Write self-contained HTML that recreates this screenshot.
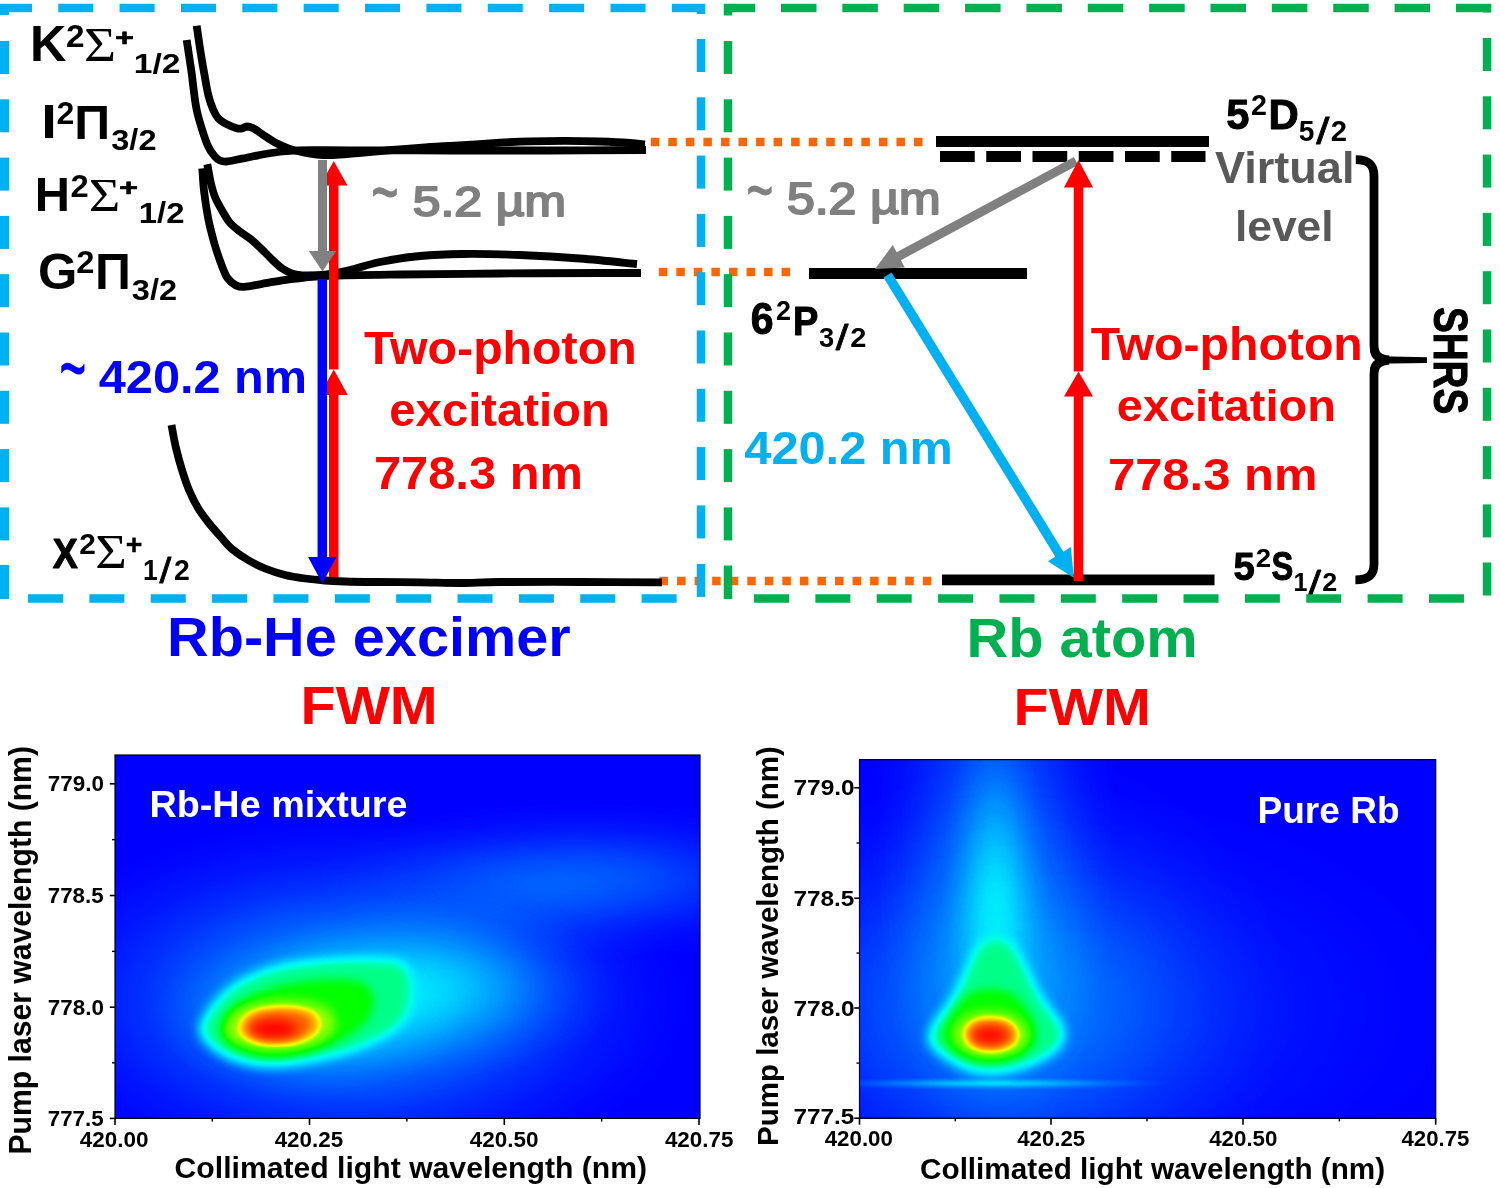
<!DOCTYPE html>
<html lang="en">
<head>
<meta charset="utf-8">
<title>Rb-He excimer and Rb atom four-wave mixing</title>
<style>
html,body{margin:0;padding:0;background:#ffffff;}
body{width:1500px;height:1188px;overflow:hidden;}
svg{display:block;}
text{white-space:pre;}
</style>
</head>
<body>
<svg width="1500" height="1188" viewBox="0 0 1500 1188">
<rect x="0" y="0" width="1500" height="1188" fill="#ffffff"/>
<defs>
<filter id="jet" x="0" y="0" width="100%" height="100%" color-interpolation-filters="sRGB">
<feComponentTransfer>
<feFuncR type="table" tableValues="0 0 0 0 0 0 0 0 0 0 0 .3 .6 .9 1 1 1 1 1 1 1"/>
<feFuncG type="table" tableValues="0 .15 .3 .45 .6 .75 .9 1 1 1 1 1 1 1 .9 .75 .6 .45 .3 .15 0"/>
<feFuncB type="table" tableValues="1 1 1 1 1 1 1 .9 .6 .3 0 0 0 0 0 0 0 0 0 0 0"/>
</feComponentTransfer>
</filter>
<filter id="b3" x="-40%" y="-40%" width="180%" height="180%" color-interpolation-filters="sRGB"><feGaussianBlur stdDeviation="2.6"/></filter>
<filter id="b4" x="-40%" y="-40%" width="180%" height="180%" color-interpolation-filters="sRGB"><feGaussianBlur stdDeviation="4"/></filter>
<filter id="b6" x="-40%" y="-40%" width="180%" height="180%" color-interpolation-filters="sRGB"><feGaussianBlur stdDeviation="6"/></filter>
<filter id="b10" x="-40%" y="-40%" width="180%" height="180%" color-interpolation-filters="sRGB"><feGaussianBlur stdDeviation="9"/></filter>
<filter id="b5" x="-30%" y="-30%" width="160%" height="160%" color-interpolation-filters="sRGB"><feGaussianBlur stdDeviation="4"/></filter>
<filter id="b8" x="-30%" y="-30%" width="160%" height="160%" color-interpolation-filters="sRGB"><feGaussianBlur stdDeviation="7"/></filter>
<radialGradient id="gA" cx="0.5" cy="0.5" r="0.5">
<stop offset="0" stop-color="#fff" stop-opacity="1"/>
<stop offset="0.15" stop-color="#fff" stop-opacity="0.93"/>
<stop offset="0.3" stop-color="#fff" stop-opacity="0.75"/>
<stop offset="0.45" stop-color="#fff" stop-opacity="0.52"/>
<stop offset="0.6" stop-color="#fff" stop-opacity="0.3"/>
<stop offset="0.75" stop-color="#fff" stop-opacity="0.14"/>
<stop offset="0.9" stop-color="#fff" stop-opacity="0.04"/>
<stop offset="1" stop-color="#fff" stop-opacity="0"/>
</radialGradient>
</defs>
<rect x="650.75" y="137.75" width="8.50" height="8.5" fill="#ff6600"/>
<rect x="668.30" y="137.75" width="8.50" height="8.5" fill="#ff6600"/>
<rect x="685.85" y="137.75" width="8.50" height="8.5" fill="#ff6600"/>
<rect x="703.40" y="137.75" width="8.50" height="8.5" fill="#ff6600"/>
<rect x="720.95" y="137.75" width="8.50" height="8.5" fill="#ff6600"/>
<rect x="738.50" y="137.75" width="8.50" height="8.5" fill="#ff6600"/>
<rect x="756.05" y="137.75" width="8.50" height="8.5" fill="#ff6600"/>
<rect x="773.60" y="137.75" width="8.50" height="8.5" fill="#ff6600"/>
<rect x="791.15" y="137.75" width="8.50" height="8.5" fill="#ff6600"/>
<rect x="808.70" y="137.75" width="8.50" height="8.5" fill="#ff6600"/>
<rect x="826.25" y="137.75" width="8.50" height="8.5" fill="#ff6600"/>
<rect x="843.80" y="137.75" width="8.50" height="8.5" fill="#ff6600"/>
<rect x="861.35" y="137.75" width="8.50" height="8.5" fill="#ff6600"/>
<rect x="878.90" y="137.75" width="8.50" height="8.5" fill="#ff6600"/>
<rect x="896.45" y="137.75" width="8.50" height="8.5" fill="#ff6600"/>
<rect x="914.00" y="137.75" width="8.50" height="8.5" fill="#ff6600"/>
<rect x="658.75" y="267.75" width="8.50" height="8.5" fill="#ff6600"/>
<rect x="676.30" y="267.75" width="8.50" height="8.5" fill="#ff6600"/>
<rect x="693.85" y="267.75" width="8.50" height="8.5" fill="#ff6600"/>
<rect x="711.40" y="267.75" width="8.50" height="8.5" fill="#ff6600"/>
<rect x="728.95" y="267.75" width="8.50" height="8.5" fill="#ff6600"/>
<rect x="746.50" y="267.75" width="8.50" height="8.5" fill="#ff6600"/>
<rect x="764.05" y="267.75" width="8.50" height="8.5" fill="#ff6600"/>
<rect x="781.60" y="267.75" width="8.50" height="8.5" fill="#ff6600"/>
<rect x="659.50" y="576.75" width="8.50" height="8.5" fill="#ff6600"/>
<rect x="677.05" y="576.75" width="8.50" height="8.5" fill="#ff6600"/>
<rect x="694.60" y="576.75" width="8.50" height="8.5" fill="#ff6600"/>
<rect x="712.15" y="576.75" width="8.50" height="8.5" fill="#ff6600"/>
<rect x="729.70" y="576.75" width="8.50" height="8.5" fill="#ff6600"/>
<rect x="747.25" y="576.75" width="8.50" height="8.5" fill="#ff6600"/>
<rect x="764.80" y="576.75" width="8.50" height="8.5" fill="#ff6600"/>
<rect x="782.35" y="576.75" width="8.50" height="8.5" fill="#ff6600"/>
<rect x="799.90" y="576.75" width="8.50" height="8.5" fill="#ff6600"/>
<rect x="817.45" y="576.75" width="8.50" height="8.5" fill="#ff6600"/>
<rect x="835.00" y="576.75" width="8.50" height="8.5" fill="#ff6600"/>
<rect x="852.55" y="576.75" width="8.50" height="8.5" fill="#ff6600"/>
<rect x="870.10" y="576.75" width="8.50" height="8.5" fill="#ff6600"/>
<rect x="887.65" y="576.75" width="8.50" height="8.5" fill="#ff6600"/>
<rect x="905.20" y="576.75" width="8.50" height="8.5" fill="#ff6600"/>
<rect x="922.75" y="576.75" width="8.50" height="8.5" fill="#ff6600"/>
<rect x="0.00" y="3.75" width="32.00" height="8.5" fill="#00b0f0"/>
<rect x="58.25" y="3.75" width="35.00" height="8.5" fill="#00b0f0"/>
<rect x="119.61" y="3.75" width="35.00" height="8.5" fill="#00b0f0"/>
<rect x="180.97" y="3.75" width="35.00" height="8.5" fill="#00b0f0"/>
<rect x="242.33" y="3.75" width="35.00" height="8.5" fill="#00b0f0"/>
<rect x="303.69" y="3.75" width="35.00" height="8.5" fill="#00b0f0"/>
<rect x="365.05" y="3.75" width="35.00" height="8.5" fill="#00b0f0"/>
<rect x="426.41" y="3.75" width="35.00" height="8.5" fill="#00b0f0"/>
<rect x="487.77" y="3.75" width="35.00" height="8.5" fill="#00b0f0"/>
<rect x="549.13" y="3.75" width="35.00" height="8.5" fill="#00b0f0"/>
<rect x="610.49" y="3.75" width="35.00" height="8.5" fill="#00b0f0"/>
<rect x="671.85" y="3.75" width="33.15" height="8.5" fill="#00b0f0"/>
<rect x="28.00" y="594.25" width="35.00" height="8.5" fill="#00b0f0"/>
<rect x="89.36" y="594.25" width="35.00" height="8.5" fill="#00b0f0"/>
<rect x="150.72" y="594.25" width="35.00" height="8.5" fill="#00b0f0"/>
<rect x="212.08" y="594.25" width="35.00" height="8.5" fill="#00b0f0"/>
<rect x="273.44" y="594.25" width="35.00" height="8.5" fill="#00b0f0"/>
<rect x="334.80" y="594.25" width="35.00" height="8.5" fill="#00b0f0"/>
<rect x="396.16" y="594.25" width="35.00" height="8.5" fill="#00b0f0"/>
<rect x="457.52" y="594.25" width="35.00" height="8.5" fill="#00b0f0"/>
<rect x="518.88" y="594.25" width="35.00" height="8.5" fill="#00b0f0"/>
<rect x="580.24" y="594.25" width="35.00" height="8.5" fill="#00b0f0"/>
<rect x="641.60" y="594.25" width="35.00" height="8.5" fill="#00b0f0"/>
<rect x="0.00" y="4.00" width="9" height="11.00" fill="#00b0f0"/>
<rect x="0.00" y="41.00" width="9" height="33.00" fill="#00b0f0"/>
<rect x="0.00" y="99.30" width="9" height="33.00" fill="#00b0f0"/>
<rect x="0.00" y="157.60" width="9" height="33.00" fill="#00b0f0"/>
<rect x="0.00" y="215.90" width="9" height="33.00" fill="#00b0f0"/>
<rect x="0.00" y="274.20" width="9" height="33.00" fill="#00b0f0"/>
<rect x="0.00" y="332.50" width="9" height="33.00" fill="#00b0f0"/>
<rect x="0.00" y="390.80" width="9" height="33.00" fill="#00b0f0"/>
<rect x="0.00" y="449.10" width="9" height="33.00" fill="#00b0f0"/>
<rect x="0.00" y="507.40" width="9" height="33.00" fill="#00b0f0"/>
<rect x="0.00" y="565.00" width="9" height="34.00" fill="#00b0f0"/>
<rect x="696.75" y="4.00" width="8.5" height="10.00" fill="#00b0f0"/>
<rect x="696.75" y="39.00" width="8.5" height="33.00" fill="#00b0f0"/>
<rect x="696.75" y="97.30" width="8.5" height="33.00" fill="#00b0f0"/>
<rect x="696.75" y="155.60" width="8.5" height="33.00" fill="#00b0f0"/>
<rect x="696.75" y="213.90" width="8.5" height="33.00" fill="#00b0f0"/>
<rect x="696.75" y="272.20" width="8.5" height="33.00" fill="#00b0f0"/>
<rect x="696.75" y="330.50" width="8.5" height="33.00" fill="#00b0f0"/>
<rect x="696.75" y="388.80" width="8.5" height="33.00" fill="#00b0f0"/>
<rect x="696.75" y="447.10" width="8.5" height="33.00" fill="#00b0f0"/>
<rect x="696.75" y="505.40" width="8.5" height="33.00" fill="#00b0f0"/>
<rect x="696.75" y="564.00" width="8.5" height="33.00" fill="#00b0f0"/>
<rect x="724.00" y="3.75" width="31.00" height="8.5" fill="#00b050"/>
<rect x="781.00" y="3.75" width="35.50" height="8.5" fill="#00b050"/>
<rect x="842.36" y="3.75" width="35.50" height="8.5" fill="#00b050"/>
<rect x="903.72" y="3.75" width="35.50" height="8.5" fill="#00b050"/>
<rect x="965.08" y="3.75" width="35.50" height="8.5" fill="#00b050"/>
<rect x="1026.44" y="3.75" width="35.50" height="8.5" fill="#00b050"/>
<rect x="1087.80" y="3.75" width="35.50" height="8.5" fill="#00b050"/>
<rect x="1149.16" y="3.75" width="35.50" height="8.5" fill="#00b050"/>
<rect x="1210.52" y="3.75" width="35.50" height="8.5" fill="#00b050"/>
<rect x="1271.88" y="3.75" width="35.50" height="8.5" fill="#00b050"/>
<rect x="1333.24" y="3.75" width="35.50" height="8.5" fill="#00b050"/>
<rect x="1394.60" y="3.75" width="35.50" height="8.5" fill="#00b050"/>
<rect x="1455.96" y="3.75" width="35.04" height="8.5" fill="#00b050"/>
<rect x="754.00" y="594.25" width="35.00" height="8.5" fill="#00b050"/>
<rect x="815.36" y="594.25" width="35.00" height="8.5" fill="#00b050"/>
<rect x="876.72" y="594.25" width="35.00" height="8.5" fill="#00b050"/>
<rect x="938.08" y="594.25" width="35.00" height="8.5" fill="#00b050"/>
<rect x="999.44" y="594.25" width="35.00" height="8.5" fill="#00b050"/>
<rect x="1060.80" y="594.25" width="35.00" height="8.5" fill="#00b050"/>
<rect x="1122.16" y="594.25" width="35.00" height="8.5" fill="#00b050"/>
<rect x="1183.52" y="594.25" width="35.00" height="8.5" fill="#00b050"/>
<rect x="1244.88" y="594.25" width="35.00" height="8.5" fill="#00b050"/>
<rect x="1306.24" y="594.25" width="35.00" height="8.5" fill="#00b050"/>
<rect x="1367.60" y="594.25" width="35.00" height="8.5" fill="#00b050"/>
<rect x="1428.96" y="594.25" width="35.00" height="8.5" fill="#00b050"/>
<rect x="723.75" y="4.00" width="8.5" height="11.50" fill="#00b050"/>
<rect x="723.75" y="41.00" width="8.5" height="33.00" fill="#00b050"/>
<rect x="723.75" y="99.30" width="8.5" height="33.00" fill="#00b050"/>
<rect x="723.75" y="157.60" width="8.5" height="33.00" fill="#00b050"/>
<rect x="723.75" y="215.90" width="8.5" height="33.00" fill="#00b050"/>
<rect x="723.75" y="274.20" width="8.5" height="33.00" fill="#00b050"/>
<rect x="723.75" y="332.50" width="8.5" height="33.00" fill="#00b050"/>
<rect x="723.75" y="390.80" width="8.5" height="33.00" fill="#00b050"/>
<rect x="723.75" y="449.10" width="8.5" height="33.00" fill="#00b050"/>
<rect x="723.75" y="507.40" width="8.5" height="33.00" fill="#00b050"/>
<rect x="723.75" y="565.50" width="8.5" height="33.50" fill="#00b050"/>
<rect x="1482.75" y="4.00" width="8.5" height="8.50" fill="#00b050"/>
<rect x="1482.75" y="38.00" width="8.5" height="33.00" fill="#00b050"/>
<rect x="1482.75" y="96.30" width="8.5" height="33.00" fill="#00b050"/>
<rect x="1482.75" y="154.60" width="8.5" height="33.00" fill="#00b050"/>
<rect x="1482.75" y="212.90" width="8.5" height="33.00" fill="#00b050"/>
<rect x="1482.75" y="271.20" width="8.5" height="33.00" fill="#00b050"/>
<rect x="1482.75" y="329.50" width="8.5" height="33.00" fill="#00b050"/>
<rect x="1482.75" y="387.80" width="8.5" height="33.00" fill="#00b050"/>
<rect x="1482.75" y="446.10" width="8.5" height="33.00" fill="#00b050"/>
<rect x="1482.75" y="504.40" width="8.5" height="33.00" fill="#00b050"/>
<rect x="1482.75" y="562.50" width="8.5" height="33.00" fill="#00b050"/>
<path d="M196.7,25.8 C197.2,29.6 198.8,40.4 200.0,48.3 C201.2,56.2 202.8,65.5 204.2,73.3 C205.6,81.1 206.8,88.9 208.3,95.0 C209.8,101.1 211.6,106.1 213.3,110.0 C215.0,113.9 216.1,115.9 218.3,118.3 C220.5,120.7 223.6,122.5 226.7,124.2 C229.8,125.9 234.2,127.6 236.7,128.3 C239.2,129.0 240.0,128.8 241.7,128.5 C243.4,128.2 244.8,126.5 246.7,126.5 C248.6,126.5 250.5,126.9 253.3,128.3 C256.1,129.7 259.7,132.6 263.3,135.0 C266.9,137.4 270.8,140.3 275.0,142.5 C279.2,144.7 283.9,146.7 288.3,148.3 C292.8,149.9 297.0,151.0 301.7,152.0 C306.4,153.0 311.4,154.0 316.7,154.5 C322.0,155.0 326.4,155.2 333.3,155.0 C340.2,154.8 348.6,153.8 358.3,153.0 C368.0,152.2 380.6,150.9 391.7,150.0 C402.8,149.1 415.3,148.0 425.0,147.3 C434.7,146.6 437.5,146.8 450.0,146.0 C462.5,145.2 486.7,143.5 500.0,142.7 C513.3,141.9 519.2,141.6 530.0,141.3 C540.8,141.0 553.3,140.8 565.0,140.8 C576.7,140.8 589.2,141.1 600.0,141.5 C610.8,141.9 622.5,142.5 630.0,143.0 C637.5,143.5 642.5,144.1 645.0,144.3" fill="none" stroke="#000" stroke-width="7.8" stroke-linejoin="round"/>
<path d="M186.7,40.0 C187.1,42.8 188.4,51.2 189.2,56.7 C190.0,62.2 190.9,67.8 191.7,73.3 C192.4,78.8 192.9,83.9 193.7,90.0 C194.5,96.1 195.4,103.6 196.7,110.0 C198.0,116.4 199.8,122.2 201.7,128.3 C203.6,134.4 206.2,142.1 208.3,146.7 C210.4,151.3 212.2,153.5 214.2,155.8 C216.1,158.1 217.9,159.6 220.0,160.5 C222.1,161.4 223.1,161.8 226.7,161.5 C230.3,161.2 236.4,159.7 241.7,158.7 C247.0,157.7 252.2,156.4 258.3,155.3 C264.4,154.2 271.6,152.8 278.3,152.0 C285.0,151.2 286.4,150.6 298.3,150.3 C310.2,150.0 324.7,150.3 350.0,150.3 C375.3,150.3 416.7,150.5 450.0,150.5 C483.3,150.5 517.3,150.6 550.0,150.5 C582.7,150.4 630.0,150.1 646.0,150.0" fill="none" stroke="#000" stroke-width="7.8" stroke-linejoin="round"/>
<path d="M207.3,164.2 C207.8,167.0 209.2,175.7 210.4,181.0 C211.6,186.3 212.8,191.2 214.6,195.8 C216.3,200.4 218.4,204.0 220.9,208.4 C223.4,212.8 226.2,218.2 229.4,222.1 C232.6,225.9 236.4,228.7 239.9,231.5 C243.4,234.3 246.9,236.1 250.4,238.9 C253.9,241.7 257.4,245.1 260.9,248.4 C264.4,251.7 267.9,255.6 271.4,258.9 C274.9,262.2 278.5,265.9 282.0,268.4 C285.5,270.8 289.0,272.5 292.5,273.6 C296.0,274.8 297.6,275.2 303.0,275.3 C308.4,275.4 317.2,275.4 325.0,274.5 C332.8,273.6 340.8,272.1 350.0,270.0 C359.2,267.9 368.3,264.3 380.0,262.0 C391.7,259.7 406.3,257.3 420.0,256.0 C433.7,254.7 445.3,254.2 462.0,254.0 C478.7,253.8 500.3,254.2 520.0,255.0 C539.7,255.8 560.5,257.0 580.0,258.5 C599.5,260.0 627.5,263.1 637.0,264.0" fill="none" stroke="#000" stroke-width="7.8" stroke-linejoin="round"/>
<path d="M202.3,168.4 C202.6,172.3 203.1,183.2 204.1,191.6 C205.1,200.0 206.6,210.1 208.3,218.9 C210.1,227.7 212.5,236.8 214.6,244.2 C216.7,251.6 218.8,257.5 220.9,263.1 C223.0,268.7 224.8,274.1 227.3,277.8 C229.8,281.5 232.9,283.7 235.7,285.2 C238.5,286.7 239.9,287.1 244.1,286.9 C248.3,286.7 254.6,285.2 260.9,284.1 C267.2,283.0 275.0,281.4 282.0,280.3 C289.0,279.2 295.0,278.6 303.0,277.8 C311.0,277.1 313.8,276.4 330.0,275.8 C346.2,275.2 371.7,274.9 400.0,274.5 C428.3,274.1 466.7,273.8 500.0,273.5 C533.3,273.2 576.5,273.1 600.0,273.0 C623.5,272.9 634.2,273.0 641.0,273.0" fill="none" stroke="#000" stroke-width="7.8" stroke-linejoin="round"/>
<path d="M171.5,425.0 C172.2,428.8 174.2,440.5 176.0,448.0 C177.8,455.5 179.8,463.0 182.0,470.0 C184.2,477.0 186.3,483.7 189.0,490.0 C191.7,496.3 194.8,502.7 198.0,508.0 C201.2,513.3 204.3,517.3 208.0,522.0 C211.7,526.7 216.0,531.5 220.0,536.0 C224.0,540.5 227.3,545.0 232.0,549.0 C236.7,553.0 242.5,556.8 248.0,560.0 C253.5,563.2 258.8,566.0 265.0,568.5 C271.2,571.0 278.3,573.3 285.0,575.0 C291.7,576.7 298.3,577.6 305.0,578.5 C311.7,579.4 318.3,580.0 325.0,580.5 C331.7,581.0 336.7,581.2 345.0,581.5 C353.3,581.8 362.5,581.9 375.0,582.0 C387.5,582.1 405.8,582.1 420.0,582.3 C434.2,582.5 446.7,583.0 460.0,583.0 C473.3,583.0 480.0,582.2 500.0,582.0 C520.0,581.8 553.0,582.0 580.0,582.0 C607.0,582.0 648.3,582.2 662.0,582.3" fill="none" stroke="#000" stroke-width="7.8" stroke-linejoin="round"/>
<polygon fill="#ff0000" points="338.50,577.00 338.50,395.00 347.75,395.00 333.75,369.50 319.75,395.00 329.00,395.00 329.00,577.00"/>
<polygon fill="#ff0000" points="338.50,369.50 338.50,185.50 347.50,185.50 333.75,161.00 320.00,185.50 329.00,185.50 329.00,369.50"/>
<polygon fill="#808080" points="318.00,160.00 318.00,251.00 308.75,251.00 322.50,271.50 336.25,251.00 327.00,251.00 327.00,160.00"/>
<polygon fill="#0000ff" points="317.55,279.00 317.55,557.00 308.05,557.00 322.30,583.50 336.55,557.00 327.05,557.00 327.05,279.00"/>
<rect x="936" y="136" width="273" height="11" fill="#000"/>
<rect x="940.00" y="151" width="34.75" height="11" fill="#000"/>
<rect x="986.25" y="151" width="34.75" height="11" fill="#000"/>
<rect x="1032.50" y="151" width="34.75" height="11" fill="#000"/>
<rect x="1078.75" y="151" width="34.75" height="11" fill="#000"/>
<rect x="1125.00" y="151" width="34.75" height="11" fill="#000"/>
<rect x="1171.25" y="151" width="34.25" height="11" fill="#000"/>
<rect x="809" y="268" width="218" height="11" fill="#000"/>
<rect x="942" y="574.5" width="272.5" height="10.8" fill="#000"/>
<polygon fill="#00b0f0" points="883.45,277.49 1055.28,556.64 1047.83,561.23 1074.00,578.00 1070.82,547.08 1063.37,551.67 891.55,272.51"/>
<polygon fill="#808080" points="1073.87,157.04 896.65,252.26 892.75,244.99 875.00,269.00 904.82,267.45 900.91,260.18 1078.13,164.96"/>
<polygon fill="#ff0000" points="1083.25,581.00 1083.25,396.50 1093.00,396.50 1078.50,371.50 1064.00,396.50 1073.75,396.50 1073.75,581.00"/>
<polygon fill="#ff0000" points="1083.25,371.50 1083.25,187.50 1093.00,187.50 1078.50,160.00 1064.00,187.50 1073.75,187.50 1073.75,371.50"/>
<path d="M1355.8,159.6 C1368,159.6 1374,164 1374,176 L1374,345 C1374,354 1378,359 1389,360 M1389,360 C1378,361 1374,366 1374,375 L1374,564 C1374,575.5 1368,579.8 1355.4,579.8" fill="none" stroke="#000" stroke-width="8.8"/>
<path d="M1374,349 C1376,357 1384,356.6 1392,356.6 L1427,357.3 L1427,363 L1392,363.6 C1384,363.6 1376,363 1374,371 L1370,371 C1370,366 1372,362 1375.5,360 C1372,358 1370,354 1370,349 Z" fill="#000"/>
<text transform="translate(29.90 61.30) scale(1.0249 1)" font-family="Liberation Sans, sans-serif" font-weight="bold" font-size="49.16" fill="#000">K</text>
<text transform="translate(66.03 47.00) scale(1.0579 1)" font-family="Liberation Sans, sans-serif" font-weight="bold" font-size="31.54" fill="#000">2</text>
<text transform="translate(84.00 61.30) scale(1.1406 1)" font-family="Liberation Serif, sans-serif" font-weight="normal" font-size="48.24" fill="#000">Σ</text>
<text transform="translate(115.20 45.64) scale(1.3744 1)" font-family="Liberation Sans, sans-serif" font-weight="bold" font-size="23.14" fill="#000" stroke="#000" stroke-width="0.7" stroke-linejoin="round">+</text>
<text transform="translate(133.70 72.83) scale(1.1879 1)" font-family="Liberation Sans, sans-serif" font-weight="bold" font-size="28.32" fill="#000">1/2</text>
<text transform="translate(41.21 138.30) scale(1.1591 1)" font-family="Liberation Sans, sans-serif" font-weight="bold" font-size="48.44" fill="#000">I</text>
<text transform="translate(56.38 123.70) scale(1.0185 1)" font-family="Liberation Sans, sans-serif" font-weight="bold" font-size="31.54" fill="#000">2</text>
<text transform="translate(74.15 138.50) scale(1.0200 1)" font-family="Liberation Sans, sans-serif" font-weight="bold" font-size="48.73" fill="#000">Π</text>
<text transform="translate(111.27 149.90) scale(1.0780 1)" font-family="Liberation Sans, sans-serif" font-weight="bold" font-size="30.20" fill="#000">3/2</text>
<text transform="translate(34.70 210.80) scale(1.0086 1)" font-family="Liberation Sans, sans-serif" font-weight="bold" font-size="48.44" fill="#000">H</text>
<text transform="translate(70.55 196.70) scale(1.0526 1)" font-family="Liberation Sans, sans-serif" font-weight="bold" font-size="31.11" fill="#000">2</text>
<text transform="translate(88.63 210.80) scale(1.1418 1)" font-family="Liberation Serif, sans-serif" font-weight="normal" font-size="47.48" fill="#000">Σ</text>
<text transform="translate(119.29 195.64) scale(1.3831 1)" font-family="Liberation Sans, sans-serif" font-weight="bold" font-size="23.14" fill="#000" stroke="#000" stroke-width="0.7" stroke-linejoin="round">+</text>
<text transform="translate(138.74 222.82) scale(1.1363 1)" font-family="Liberation Sans, sans-serif" font-weight="bold" font-size="28.99" fill="#000">1/2</text>
<text transform="translate(37.97 288.69) scale(0.9985 1)" font-family="Liberation Sans, sans-serif" font-weight="bold" font-size="50.74" fill="#000">G</text>
<text transform="translate(76.35 273.30) scale(1.0574 1)" font-family="Liberation Sans, sans-serif" font-weight="bold" font-size="30.97" fill="#000">2</text>
<text transform="translate(94.95 288.70) scale(1.0140 1)" font-family="Liberation Sans, sans-serif" font-weight="bold" font-size="49.02" fill="#000">Π</text>
<text transform="translate(131.77 299.99) scale(1.0732 1)" font-family="Liberation Sans, sans-serif" font-weight="bold" font-size="30.34" fill="#000">3/2</text>
<text transform="translate(52.72 567.70) scale(0.8717 1)" font-family="Liberation Sans, sans-serif" font-weight="bold" font-size="43.05" fill="#000" stroke="#000" stroke-width="1.2" stroke-linejoin="round">X</text>
<text transform="translate(79.26 553.70) scale(1.0408 1)" font-family="Liberation Sans, sans-serif" font-weight="bold" font-size="28.67" fill="#000">2</text>
<text transform="translate(95.33 568.00) scale(1.1028 1)" font-family="Liberation Serif, sans-serif" font-weight="normal" font-size="49.16" fill="#000">Σ</text>
<text transform="translate(125.69 554.40) scale(1.0496 1)" font-family="Liberation Sans, sans-serif" font-weight="bold" font-size="27.06" fill="#000" stroke="#000" stroke-width="0.4" stroke-linejoin="round">+</text>
<text transform="translate(143.05 579.70) scale(0.9231 1)" font-family="Liberation Sans, sans-serif" font-weight="bold" font-size="28.65" fill="#000">1</text>
<text transform="translate(159.60 583.44) scale(1.1738 1)" font-family="Liberation Sans, sans-serif" font-weight="normal" font-size="35.92" fill="#000" stroke="#000" stroke-width="0.8" stroke-linejoin="round">/</text>
<text transform="translate(174.01 579.70) scale(0.9902 1)" font-family="Liberation Sans, sans-serif" font-weight="bold" font-size="28.67" fill="#000">2</text>
<text transform="translate(371.19 218.00) scale(0.6233 1)" font-family="Liberation Sans, sans-serif" font-weight="normal" font-size="75.20" fill="#808080" stroke="#808080" stroke-width="1.0" stroke-linejoin="round">~</text>
<text transform="translate(412.76 215.80) scale(1.1508 1)" font-family="Liberation Sans, sans-serif" font-weight="normal" font-size="43.27" fill="#808080" stroke="#808080" stroke-width="2.0" stroke-linejoin="round">5.2 µm</text>
<text transform="translate(59.45 397.00) scale(0.5384 1)" font-family="Liberation Sans, sans-serif" font-weight="normal" font-size="84.80" fill="#0000ff" stroke="#0000ff" stroke-width="1.0" stroke-linejoin="round">~</text>
<text transform="translate(98.77 393.10) scale(1.0585 1)" font-family="Liberation Sans, sans-serif" font-weight="bold" font-size="45.99" fill="#0000ff">420.2 nm</text>
<text transform="translate(364.12 364.10) scale(1.0347 1)" font-family="Liberation Sans, sans-serif" font-weight="bold" font-size="46.66" fill="#ff0000">Two-photon</text>
<text transform="translate(389.36 425.75) scale(1.0147 1)" font-family="Liberation Sans, sans-serif" font-weight="bold" font-size="46.55" fill="#ff0000">excitation</text>
<text transform="translate(373.92 489.00) scale(1.0456 1)" font-family="Liberation Sans, sans-serif" font-weight="bold" font-size="46.70" fill="#ff0000">778.3 nm</text>
<text transform="translate(746.44 214.74) scale(0.6369 1)" font-family="Liberation Sans, sans-serif" font-weight="normal" font-size="72.00" fill="#808080" stroke="#808080" stroke-width="1.0" stroke-linejoin="round">~</text>
<text transform="translate(787.00 214.00) scale(1.1455 1)" font-family="Liberation Sans, sans-serif" font-weight="normal" font-size="43.55" fill="#808080" stroke="#808080" stroke-width="2.0" stroke-linejoin="round">5.2 µm</text>
<text transform="translate(744.27 464.00) scale(1.0634 1)" font-family="Liberation Sans, sans-serif" font-weight="bold" font-size="45.85" fill="#00b0f0">420.2 nm</text>
<text transform="translate(1090.77 360.00) scale(1.0236 1)" font-family="Liberation Sans, sans-serif" font-weight="bold" font-size="47.09" fill="#ff0000">Two-photon</text>
<text transform="translate(1116.82 420.75) scale(1.0387 1)" font-family="Liberation Sans, sans-serif" font-weight="bold" font-size="45.17" fill="#ff0000">excitation</text>
<text transform="translate(1107.92 490.20) scale(1.0882 1)" font-family="Liberation Sans, sans-serif" font-weight="bold" font-size="44.99" fill="#ff0000">778.3 nm</text>
<text transform="translate(750.66 334.06) scale(0.9366 1)" font-family="Liberation Sans, sans-serif" font-weight="bold" font-size="43.82" fill="#000" stroke="#000" stroke-width="1.0" stroke-linejoin="round">6</text>
<text transform="translate(776.06 320.30) scale(0.9637 1)" font-family="Liberation Sans, sans-serif" font-weight="bold" font-size="27.96" fill="#000">2</text>
<text transform="translate(792.93 334.50) scale(0.9277 1)" font-family="Liberation Sans, sans-serif" font-weight="bold" font-size="41.02" fill="#000" stroke="#000" stroke-width="1.0" stroke-linejoin="round">P</text>
<text transform="translate(819.08 346.55) scale(0.9852 1)" font-family="Liberation Sans, sans-serif" font-weight="bold" font-size="27.75" fill="#000">3</text>
<text transform="translate(835.70 350.04) scale(1.2689 1)" font-family="Liberation Sans, sans-serif" font-weight="normal" font-size="35.78" fill="#000" stroke="#000" stroke-width="0.8" stroke-linejoin="round">/</text>
<text transform="translate(850.28 346.50) scale(1.0486 1)" font-family="Liberation Sans, sans-serif" font-weight="bold" font-size="27.67" fill="#000">2</text>
<text transform="translate(1226.25 128.77) scale(0.9674 1)" font-family="Liberation Sans, sans-serif" font-weight="bold" font-size="43.01" fill="#000" stroke="#000" stroke-width="1.0" stroke-linejoin="round">5</text>
<text transform="translate(1251.00 114.70) scale(0.9975 1)" font-family="Liberation Sans, sans-serif" font-weight="bold" font-size="28.67" fill="#000">2</text>
<text transform="translate(1268.47 128.70) scale(0.9779 1)" font-family="Liberation Sans, sans-serif" font-weight="bold" font-size="42.91" fill="#000" stroke="#000" stroke-width="1.0" stroke-linejoin="round">D</text>
<text transform="translate(1298.86 140.71) scale(0.9717 1)" font-family="Liberation Sans, sans-serif" font-weight="bold" font-size="28.96" fill="#000">5</text>
<text transform="translate(1316.20 144.24) scale(1.2995 1)" font-family="Liberation Sans, sans-serif" font-weight="normal" font-size="36.33" fill="#000" stroke="#000" stroke-width="0.8" stroke-linejoin="round">/</text>
<text transform="translate(1330.68 140.80) scale(1.0091 1)" font-family="Liberation Sans, sans-serif" font-weight="bold" font-size="28.96" fill="#000">2</text>
<text transform="translate(1233.55 579.91) scale(0.9758 1)" font-family="Liberation Sans, sans-serif" font-weight="bold" font-size="39.14" fill="#000" stroke="#000" stroke-width="1.0" stroke-linejoin="round">5</text>
<text transform="translate(1255.74 566.70) scale(1.0449 1)" font-family="Liberation Sans, sans-serif" font-weight="bold" font-size="26.38" fill="#000">2</text>
<text transform="translate(1271.52 580.40) scale(0.8073 1)" font-family="Liberation Sans, sans-serif" font-weight="bold" font-size="40.42" fill="#000" stroke="#000" stroke-width="1.0" stroke-linejoin="round">S</text>
<text transform="translate(1293.43 590.80) scale(0.9453 1)" font-family="Liberation Sans, sans-serif" font-weight="bold" font-size="26.62" fill="#000">1</text>
<text transform="translate(1308.70 594.27) scale(1.3189 1)" font-family="Liberation Sans, sans-serif" font-weight="normal" font-size="33.33" fill="#000" stroke="#000" stroke-width="0.8" stroke-linejoin="round">/</text>
<text transform="translate(1322.36 590.80) scale(1.0158 1)" font-family="Liberation Sans, sans-serif" font-weight="bold" font-size="26.52" fill="#000">2</text>
<text transform="translate(1214.96 183.30) scale(1.0345 1)" font-family="Liberation Sans, sans-serif" font-weight="bold" font-size="43.60" fill="#595959">Virtual</text>
<text transform="translate(1234.89 240.50) scale(1.0546 1)" font-family="Liberation Sans, sans-serif" font-weight="bold" font-size="42.07" fill="#595959">level</text>
<text transform="translate(1433.75 306.99) rotate(90) scale(0.7880 1)" font-family="Liberation Sans, sans-serif" font-weight="bold" font-size="48.98" fill="#000" stroke="#000" stroke-width="1.1" stroke-linejoin="round">SHRS</text>
<text transform="translate(167.11 656.30) scale(1.0247 1)" font-family="Liberation Sans, sans-serif" font-weight="bold" font-size="56.25" fill="#0000ff">Rb-He excimer</text>
<text transform="translate(300.62 724.00) scale(1.0825 1)" font-family="Liberation Sans, sans-serif" font-weight="bold" font-size="53.05" fill="#ff0000">FWM</text>
<text transform="translate(966.60 657.00) scale(1.0456 1)" font-family="Liberation Sans, sans-serif" font-weight="bold" font-size="55.23" fill="#00b050">Rb atom</text>
<text transform="translate(1013.62 725.00) scale(1.0975 1)" font-family="Liberation Sans, sans-serif" font-weight="bold" font-size="52.33" fill="#ff0000">FWM</text>
<clipPath id="cl"><rect x="115" y="755" width="585.0" height="363.4"/></clipPath>
<g clip-path="url(#cl)"><g filter="url(#jet)">
<rect x="95" y="735" width="625.0" height="403.4" fill="#000"/>
<ellipse cx="350" cy="1000" rx="340" ry="185" fill="url(#gA)" opacity="0.22"/>
<ellipse cx="440" cy="985" rx="190" ry="95" fill="url(#gA)" opacity="0.13"/>
<ellipse cx="310" cy="1015" rx="160" ry="85" fill="url(#gA)" opacity="0.12"/>
<ellipse cx="580" cy="880" rx="270" ry="80" fill="url(#gA)" opacity="0.12"/>
<path d="M199.5,1029.9 C199.1,1024.7 202.8,1019.0 205.9,1013.9 C208.9,1008.7 212.8,1003.9 217.6,998.9 C222.4,994.0 228.3,988.3 234.7,984.0 C241.1,979.7 248.5,976.4 256.0,973.3 C263.5,970.3 270.6,967.8 279.5,965.9 C288.4,963.9 299.0,962.7 309.3,961.6 C319.6,960.5 330.7,959.8 341.3,959.5 C352.0,959.1 364.1,959.1 373.3,959.5 C382.6,959.8 390.9,959.6 396.8,961.6 C402.7,963.6 406.2,966.4 408.5,971.2 C410.8,976.0 410.8,983.6 410.7,990.4 C410.5,997.2 410.1,1005.3 407.5,1011.7 C404.8,1018.1 400.4,1023.8 394.7,1028.8 C389.0,1033.8 381.2,1037.7 373.3,1041.6 C365.5,1045.5 356.6,1049.2 347.7,1052.3 C338.8,1055.3 329.2,1057.6 320.0,1059.7 C310.8,1061.9 301.2,1063.9 292.3,1065.1 C283.4,1066.2 274.5,1067.0 266.7,1066.8 C258.8,1066.6 252.4,1065.7 245.3,1064.0 C238.2,1062.3 230.2,1059.7 224.0,1056.5 C217.8,1053.3 212.1,1049.2 208.0,1044.8 C203.9,1040.4 199.8,1035.0 199.5,1029.9Z" fill="#696969" filter="url(#b6)"/>
<path d="M220.4,1029.3 C221.0,1025.2 223.4,1018.5 227.2,1013.6 C230.9,1008.8 236.5,1004.1 242.8,1000.2 C249.2,996.3 257.0,992.9 265.2,990.1 C273.5,987.3 282.4,985.1 292.1,983.4 C301.8,981.7 313.8,980.6 323.5,980.0 C333.2,979.5 342.9,978.9 350.4,980.0 C357.8,981.2 364.4,983.0 368.3,986.8 C372.2,990.5 373.9,997.2 373.9,1002.4 C373.9,1007.7 371.5,1013.3 368.3,1018.1 C365.1,1023.0 360.8,1027.3 354.8,1031.6 C348.9,1035.9 340.7,1040.3 332.4,1043.9 C324.2,1047.4 314.5,1050.6 305.6,1052.8 C296.6,1055.1 287.3,1057.0 278.7,1057.3 C270.1,1057.7 261.5,1056.8 254.0,1055.1 C246.6,1053.4 238.9,1050.0 233.9,1047.2 C228.8,1044.4 226.0,1041.3 223.8,1038.3 C221.6,1035.3 219.9,1033.4 220.4,1029.3Z" fill="#808080" filter="url(#b5)"/>
<path d="M225.3,1028.3 C226.0,1024.5 228.7,1017.8 232.5,1013.9 C236.4,1010.1 241.4,1007.5 248.4,1005.3 C255.3,1003.1 265.2,1001.6 274.3,1001.0 C283.4,1000.4 294.4,1000.4 303.1,1001.6 C311.7,1002.8 320.8,1004.9 326.1,1008.2 C331.4,1011.4 334.0,1016.8 334.8,1021.1 C335.5,1025.5 333.8,1030.3 330.4,1034.1 C327.1,1037.9 321.1,1041.6 314.6,1044.2 C308.1,1046.7 300.2,1048.4 291.6,1049.4 C282.9,1050.3 271.4,1050.8 262.8,1049.9 C254.1,1049.1 245.5,1046.3 239.7,1044.2 C234.0,1042.0 230.6,1039.6 228.2,1037.0 C225.8,1034.3 224.6,1032.2 225.3,1028.3Z" fill="#999999" filter="url(#b6)"/>
<path d="M238.9,1027.7 C239.5,1024.9 241.4,1019.9 244.3,1017.1 C247.1,1014.2 250.8,1012.3 256.0,1010.7 C261.2,1009.1 268.4,1007.9 275.2,1007.5 C282.0,1007.0 290.1,1007.0 296.5,1007.9 C302.9,1008.8 309.7,1010.4 313.6,1012.8 C317.5,1015.2 319.5,1019.2 320.0,1022.4 C320.5,1025.6 319.3,1029.2 316.8,1032.0 C314.3,1034.8 309.9,1037.6 305.1,1039.5 C300.3,1041.4 294.4,1042.6 288.0,1043.3 C281.6,1044.0 273.1,1044.4 266.7,1043.7 C260.3,1043.1 253.9,1041.1 249.6,1039.5 C245.3,1037.9 242.8,1036.1 241.1,1034.1 C239.3,1032.2 238.4,1030.6 238.9,1027.7Z" fill="#b8b8b8" filter="url(#b3)"/>
<path d="M245.1,1027.6 C245.5,1025.2 247.2,1021.0 249.6,1018.6 C251.9,1016.2 255.1,1014.6 259.4,1013.2 C263.7,1011.9 269.9,1010.9 275.5,1010.5 C281.2,1010.2 288.1,1010.2 293.5,1010.9 C298.8,1011.6 304.5,1013.0 307.8,1015.0 C311.1,1017.0 312.7,1020.4 313.2,1023.1 C313.6,1025.8 312.6,1028.8 310.5,1031.1 C308.4,1033.5 304.7,1035.8 300.6,1037.4 C296.6,1039.0 291.7,1040.0 286.3,1040.6 C280.9,1041.2 273.7,1041.5 268.4,1041.0 C263.0,1040.5 257.6,1038.8 254.0,1037.4 C250.5,1036.1 248.4,1034.6 246.9,1032.9 C245.4,1031.3 244.6,1030.0 245.1,1027.6Z" fill="#dedede" filter="url(#b4)"/>
<ellipse cx="274" cy="1029" rx="24" ry="9.5" fill="#fff" filter="url(#b6)"/>
</g></g>
<rect x="115" y="755" width="585.0" height="363.4" fill="none" stroke="#000" stroke-width="1.2"/>
<rect x="114.20" y="1118.4" width="1.6" height="6.5" fill="#000"/>
<rect x="308.70" y="1118.4" width="1.6" height="6.5" fill="#000"/>
<rect x="503.50" y="1118.4" width="1.6" height="6.5" fill="#000"/>
<rect x="698.20" y="1118.4" width="1.6" height="6.5" fill="#000"/>
<rect x="211.55" y="1118.4" width="1.4" height="3.2" fill="#000"/>
<rect x="406.20" y="1118.4" width="1.4" height="3.2" fill="#000"/>
<rect x="600.95" y="1118.4" width="1.4" height="3.2" fill="#000"/>
<rect x="109.80" y="783.00" width="5.2" height="1.6" fill="#000"/>
<rect x="109.80" y="894.70" width="5.2" height="1.6" fill="#000"/>
<rect x="109.80" y="1006.40" width="5.2" height="1.6" fill="#000"/>
<rect x="109.80" y="1117.60" width="5.2" height="1.6" fill="#000"/>
<rect x="112.00" y="838.95" width="3" height="1.4" fill="#000"/>
<rect x="112.00" y="950.65" width="3" height="1.4" fill="#000"/>
<rect x="112.00" y="1062.10" width="3" height="1.4" fill="#000"/>
<text transform="translate(79.66 1146.75) scale(1.0059 1)" font-family="Liberation Sans, sans-serif" font-weight="bold" font-size="22.35" fill="#000">420.00</text>
<text transform="translate(274.66 1146.75) scale(1.0017 1)" font-family="Liberation Sans, sans-serif" font-weight="bold" font-size="22.35" fill="#000">420.25</text>
<text transform="translate(469.66 1146.75) scale(1.0059 1)" font-family="Liberation Sans, sans-serif" font-weight="bold" font-size="22.35" fill="#000">420.50</text>
<text transform="translate(664.91 1146.75) scale(1.0017 1)" font-family="Liberation Sans, sans-serif" font-weight="bold" font-size="22.35" fill="#000">420.75</text>
<text transform="translate(47.80 791.30) scale(1.0161 1)" font-family="Liberation Sans, sans-serif" font-weight="bold" font-size="22.06" fill="#000">779.0</text>
<text transform="translate(47.80 903.00) scale(1.0108 1)" font-family="Liberation Sans, sans-serif" font-weight="bold" font-size="22.06" fill="#000">778.5</text>
<text transform="translate(47.80 1014.70) scale(1.0161 1)" font-family="Liberation Sans, sans-serif" font-weight="bold" font-size="22.06" fill="#000">778.0</text>
<text transform="translate(47.80 1125.50) scale(1.0043 1)" font-family="Liberation Sans, sans-serif" font-weight="bold" font-size="22.21" fill="#000">777.5</text>
<text transform="translate(174.54 1178.40) scale(1.0077 1)" font-family="Liberation Sans, sans-serif" font-weight="bold" font-size="29.94" fill="#000">Collimated light wavelength (nm)</text>
<text transform="translate(30.80 1154.53) rotate(-90) scale(0.9779 1)" font-family="Liberation Sans, sans-serif" font-weight="bold" font-size="30.81" fill="#000">Pump laser wavelength (nm)</text>
<text transform="translate(149.45 816.80) scale(1.0076 1)" font-family="Liberation Sans, sans-serif" font-weight="bold" font-size="37.50" fill="#fff">Rb-He mixture</text>
<clipPath id="cr"><rect x="859.5" y="759.6" width="576.2" height="358.6"/></clipPath>
<g clip-path="url(#cr)"><g filter="url(#jet)">
<rect x="839.5" y="739.6" width="616.2" height="398.6" fill="#000"/>
<ellipse cx="1005" cy="1000" rx="290" ry="260" fill="url(#gA)" opacity="0.12"/>
<ellipse cx="1060" cy="1010" rx="420" ry="230" fill="url(#gA)" opacity="0.06"/>
<ellipse cx="995" cy="850" rx="130" ry="340" fill="url(#gA)" opacity="0.13"/>
<ellipse cx="995" cy="900" rx="55" ry="200" fill="url(#gA)" opacity="0.13"/>
<ellipse cx="990" cy="1083.5" rx="200" ry="7" fill="url(#gA)" opacity="0.16"/>
<path d="M928.2,1035.9 C929.0,1031.3 932.3,1025.0 935.8,1019.3 C939.3,1013.5 945.3,1007.2 949.3,1001.2 C953.4,995.2 956.9,988.6 959.9,983.1 C962.9,977.6 965.1,972.8 967.4,968.0 C969.8,963.2 971.8,958.4 974.1,954.5 C976.3,950.5 977.3,947.2 981.0,944.5 C984.7,941.8 991.0,938.5 996.1,938.5 C1001.1,938.5 1007.5,941.8 1011.1,944.5 C1014.8,947.2 1015.3,950.0 1018.1,954.5 C1020.8,958.9 1024.6,965.3 1027.7,971.0 C1030.8,976.8 1033.3,983.1 1036.8,989.1 C1040.3,995.2 1044.8,1001.7 1048.8,1007.2 C1052.8,1012.7 1058.3,1017.5 1060.9,1022.3 C1063.5,1027.1 1065.0,1031.3 1064.5,1035.9 C1064.0,1040.4 1062.0,1045.1 1057.9,1049.4 C1053.8,1053.7 1046.8,1058.0 1039.8,1061.5 C1032.7,1065.0 1023.7,1068.4 1015.7,1070.5 C1007.6,1072.6 999.6,1074.1 991.5,1074.1 C983.5,1074.1 975.2,1073.1 967.4,1070.5 C959.6,1067.9 950.8,1062.5 944.8,1058.5 C938.8,1054.4 934.0,1050.2 931.3,1046.4 C928.5,1042.6 927.5,1040.4 928.2,1035.9Z" fill="#696969" filter="url(#b6)"/>
<path d="M942.5,1034.8 C942.2,1029.7 945.9,1024.2 948.8,1018.9 C951.7,1013.7 956.0,1007.6 959.9,1003.1 C963.9,998.6 967.3,994.4 972.6,992.0 C977.9,989.7 985.2,988.7 991.6,988.9 C997.9,989.0 1005.3,990.3 1010.6,993.0 C1015.8,995.6 1019.5,1000.4 1023.2,1004.7 C1026.9,1009.0 1030.5,1013.9 1032.7,1018.9 C1034.9,1023.9 1036.8,1030.0 1036.5,1034.8 C1036.3,1039.5 1034.9,1043.5 1031.1,1047.4 C1027.3,1051.4 1020.3,1056.1 1013.7,1058.5 C1007.1,1060.9 999.0,1061.7 991.6,1061.7 C984.2,1061.7 976.3,1060.6 969.4,1058.5 C962.6,1056.4 954.9,1053.0 950.4,1049.0 C945.9,1045.0 942.8,1039.8 942.5,1034.8Z" fill="#808080" filter="url(#b5)"/>
<path d="M953.5,1034.3 C953.2,1029.6 956.4,1024.3 959.9,1020.8 C963.4,1017.3 968.7,1014.7 974.6,1013.2 C980.6,1011.7 989.1,1011.4 995.7,1011.9 C1002.4,1012.5 1009.7,1013.9 1014.7,1016.6 C1019.8,1019.3 1024.0,1024.0 1026.1,1028.0 C1028.2,1032.0 1028.9,1036.8 1027.4,1040.6 C1025.9,1044.5 1021.8,1048.5 1016.8,1051.2 C1011.9,1053.9 1004.2,1055.8 997.9,1056.7 C991.5,1057.5 984.8,1057.5 978.9,1056.3 C972.9,1055.0 966.2,1052.7 962.0,1049.1 C957.8,1045.4 953.9,1039.0 953.5,1034.3Z" fill="#999999" filter="url(#b6)"/>
<path d="M964.4,1034.3 C964.2,1031.0 966.4,1027.2 968.9,1024.7 C971.4,1022.2 975.2,1020.3 979.5,1019.3 C983.8,1018.2 989.8,1018.0 994.6,1018.4 C999.3,1018.8 1004.5,1019.8 1008.1,1021.7 C1011.7,1023.6 1014.8,1027.0 1016.3,1029.8 C1017.8,1032.7 1018.3,1036.1 1017.2,1038.9 C1016.1,1041.6 1013.2,1044.5 1009.6,1046.4 C1006.1,1048.3 1000.6,1049.7 996.1,1050.3 C991.5,1050.9 986.8,1050.9 982.5,1050.0 C978.2,1049.1 973.5,1047.5 970.4,1044.9 C967.4,1042.3 964.7,1037.7 964.4,1034.3Z" fill="#b8b8b8" filter="url(#b3)"/>
<path d="M968.8,1034.4 C968.6,1031.5 970.5,1028.4 972.6,1026.3 C974.7,1024.1 977.8,1022.6 981.4,1021.7 C985.0,1020.8 990.1,1020.6 994.1,1020.9 C998.1,1021.3 1002.4,1022.1 1005.5,1023.7 C1008.5,1025.3 1011.1,1028.2 1012.3,1030.6 C1013.6,1033.0 1014.0,1035.8 1013.1,1038.2 C1012.2,1040.5 1009.7,1042.9 1006.7,1044.5 C1003.8,1046.1 999.2,1047.3 995.4,1047.8 C991.6,1048.3 987.5,1048.3 984.0,1047.5 C980.4,1046.8 976.4,1045.4 973.8,1043.2 C971.3,1041.0 969.0,1037.2 968.8,1034.4Z" fill="#dedede" filter="url(#b4)"/>
<ellipse cx="990" cy="1035.5" rx="18" ry="8" fill="#fff" filter="url(#b6)"/>
</g></g>
<rect x="859.5" y="759.6" width="576.2" height="358.6" fill="none" stroke="#000" stroke-width="1.2"/>
<rect x="858.70" y="1118.2" width="1.6" height="6.5" fill="#000"/>
<rect x="1050.20" y="1118.2" width="1.6" height="6.5" fill="#000"/>
<rect x="1242.20" y="1118.2" width="1.6" height="6.5" fill="#000"/>
<rect x="1434.90" y="1118.2" width="1.6" height="6.5" fill="#000"/>
<rect x="954.55" y="1118.2" width="1.4" height="3.2" fill="#000"/>
<rect x="1146.30" y="1118.2" width="1.4" height="3.2" fill="#000"/>
<rect x="1338.65" y="1118.2" width="1.4" height="3.2" fill="#000"/>
<rect x="854.30" y="787.00" width="5.2" height="1.6" fill="#000"/>
<rect x="854.30" y="897.40" width="5.2" height="1.6" fill="#000"/>
<rect x="854.30" y="1007.20" width="5.2" height="1.6" fill="#000"/>
<rect x="854.30" y="1117.40" width="5.2" height="1.6" fill="#000"/>
<rect x="856.50" y="842.30" width="3" height="1.4" fill="#000"/>
<rect x="856.50" y="952.40" width="3" height="1.4" fill="#000"/>
<rect x="856.50" y="1062.40" width="3" height="1.4" fill="#000"/>
<text transform="translate(824.67 1145.50) scale(1.0247 1)" font-family="Liberation Sans, sans-serif" font-weight="bold" font-size="21.78" fill="#000">420.00</text>
<text transform="translate(1017.17 1145.50) scale(1.0205 1)" font-family="Liberation Sans, sans-serif" font-weight="bold" font-size="21.78" fill="#000">420.25</text>
<text transform="translate(1209.17 1145.50) scale(1.0247 1)" font-family="Liberation Sans, sans-serif" font-weight="bold" font-size="21.78" fill="#000">420.50</text>
<text transform="translate(1401.47 1145.50) scale(1.0205 1)" font-family="Liberation Sans, sans-serif" font-weight="bold" font-size="21.78" fill="#000">420.75</text>
<text transform="translate(793.46 795.30) scale(1.1243 1)" font-family="Liberation Sans, sans-serif" font-weight="bold" font-size="21.78" fill="#000">779.0</text>
<text transform="translate(793.46 905.70) scale(1.1185 1)" font-family="Liberation Sans, sans-serif" font-weight="bold" font-size="21.78" fill="#000">778.5</text>
<text transform="translate(793.46 1015.50) scale(1.1243 1)" font-family="Liberation Sans, sans-serif" font-weight="bold" font-size="21.78" fill="#000">778.0</text>
<text transform="translate(793.46 1124.30) scale(1.1112 1)" font-family="Liberation Sans, sans-serif" font-weight="bold" font-size="21.92" fill="#000">777.5</text>
<text transform="translate(920.06 1179.00) scale(0.9821 1)" font-family="Liberation Sans, sans-serif" font-weight="bold" font-size="30.23" fill="#000">Collimated light wavelength (nm)</text>
<text transform="translate(777.70 1145.99) rotate(-90) scale(1.0048 1)" font-family="Liberation Sans, sans-serif" font-weight="bold" font-size="29.36" fill="#000">Pump laser wavelength (nm)</text>
<text transform="translate(1257.50 822.50) scale(0.9995 1)" font-family="Liberation Sans, sans-serif" font-weight="bold" font-size="37.06" fill="#fff">Pure Rb</text>
</svg>
</body>
</html>
